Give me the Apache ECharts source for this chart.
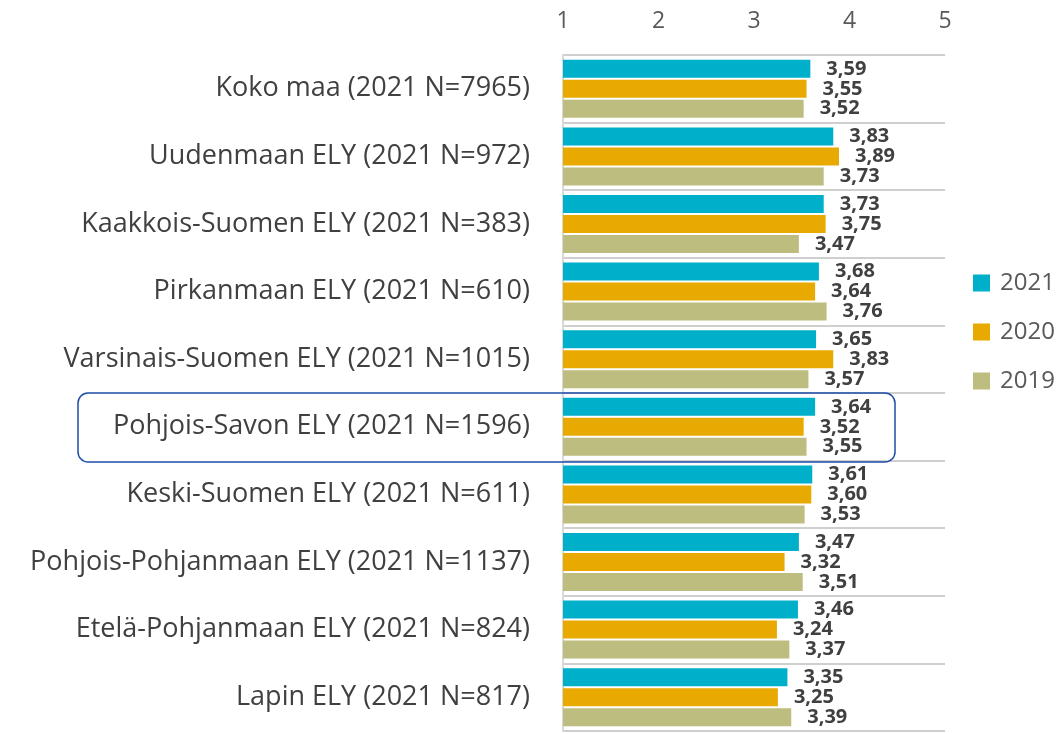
<!DOCTYPE html>
<html>
<head>
<meta charset="utf-8">
<script src="https://cdn.jsdelivr.net/npm/echarts@6/dist/echarts.min.js"></script>
<style>
  html, body { margin: 0; padding: 0; background: #fff; }
  #chart { width: 1061px; height: 734px; }
</style>
</head>
<body>
<div id="chart"></div>
<script>
// alueet ja arvot luettu kuvasta
var regions = [
    "Koko maa (2021 N=7965)",
    "Uudenmaan ELY (2021 N=972)",
    "Kaakkois-Suomen ELY (2021 N=383)",
    "Pirkanmaan ELY (2021 N=610)",
    "Varsinais-Suomen ELY (2021 N=1015)",
    "Pohjois-Savon ELY (2021 N=1596)",
    "Keski-Suomen ELY (2021 N=611)",
    "Pohjois-Pohjanmaan ELY (2021 N=1137)",
    "Etelä-Pohjanmaan ELY (2021 N=824)",
    "Lapin ELY (2021 N=817)"
];
var years = ["2021", "2020", "2019"];
var values2021 = [3.59, 3.83, 3.73, 3.68, 3.65, 3.64, 3.61, 3.47, 3.46, 3.35];
var values2020 = [3.55, 3.89, 3.75, 3.64, 3.83, 3.52, 3.60, 3.32, 3.24, 3.25];
var values2019 = [3.52, 3.73, 3.47, 3.76, 3.57, 3.55, 3.53, 3.51, 3.37, 3.39];
var xTicks = [1, 2, 3, 4, 5];

var colors = ['#00AFC9', '#E8AA00', '#BDBD80'];
var font = '"Open Sans", sans-serif';

function makeSeries(name, data, color) {
    return {
        name: name,
        type: 'bar',
        data: data,
        barWidth: 18,
        barGap: '11%',
        itemStyle: { color: color },
        label: {
            show: true,
            position: 'right',
            distance: 16,
            color: '#404040',
            fontWeight: 'bold',
            fontSize: 20,
            fontFamily: font,
            formatter: function (p) {
                return p.value.toFixed(2).replace('.', ',');
            }
        }
    };
}

var myChart = echarts.init(document.getElementById('chart'));

var option = {
    animation: false,
    legend: {
        orient: 'vertical',
        left: 968,
        top: 266,
        itemWidth: 17,
        itemHeight: 17,
        itemGap: 25,
        icon: 'rect',
        textStyle: {
            color: '#595959',
            fontSize: 24,
            fontFamily: font,
            padding: [0, 0, 0, 5]
        },
        data: years
    },
    grid: {
        left: 563,
        right: 116,
        top: 55,
        bottom: 3
    },
    xAxis: {
        type: 'value',
        position: 'top',
        min: xTicks[0],
        max: xTicks[xTicks.length - 1],
        interval: 1,
        axisLine: { show: false },
        axisTick: { show: false },
        splitLine: { show: false },
        axisLabel: {
            color: '#595959',
            fontSize: 23,
            fontFamily: font,
            margin: 22
        }
    },
    yAxis: {
        type: 'category',
        inverse: true,
        data: regions,
        axisLine: { show: true, lineStyle: { color: '#D9D9D9', width: 2 } },
        axisTick: { show: false },
        splitLine: { show: true, interval: 0, lineStyle: { color: '#CFCFCF', width: 2 } },
        axisLabel: {
            color: '#404040',
            fontSize: 27,
            fontFamily: font,
            margin: 33
        }
    },
    graphic: [
        {
            type: 'rect',
            shape: { x: 78, y: 393, width: 817, height: 69, r: 10 },
            style: { fill: 'none', stroke: '#1F4EA8', lineWidth: 1.5 },
            z: 100
        }
    ],
    series: [
        makeSeries(years[0], values2021, colors[0]),
        makeSeries(years[1], values2020, colors[1]),
        makeSeries(years[2], values2019, colors[2])
    ]
};

myChart.setOption(option);
</script>
</body>
</html>
